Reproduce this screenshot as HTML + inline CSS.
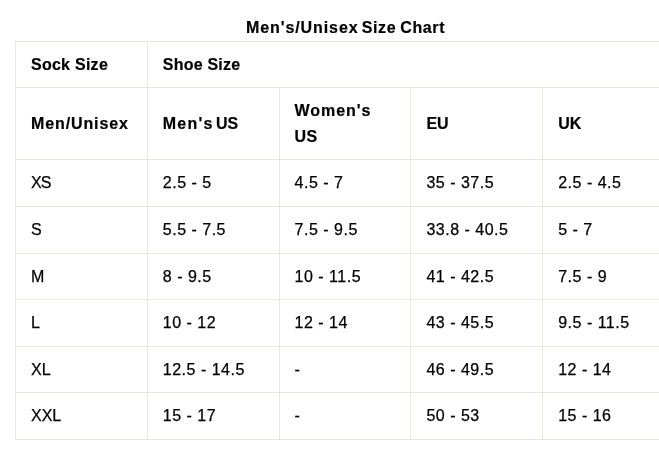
<!DOCTYPE html>
<html><head><meta charset="utf-8">
<style>
html,body{margin:0;padding:0;background:#fff;overflow:hidden;}
body{width:659px;height:455px;position:relative;font-family:"Liberation Sans",sans-serif;color:#000;}
.wrap{position:absolute;left:15px;top:0;width:658px;will-change:transform;}
h3{margin:0;position:absolute;left:0;width:658px;top:18px;text-align:left;font-size:16px;font-weight:bold;line-height:20px;letter-spacing:0.64px;padding-left:231px;white-space:nowrap;word-spacing:-2px;-webkit-text-stroke:0.2px #000;box-sizing:border-box;}
table{position:absolute;left:0;top:40.7px;width:660px;border-collapse:collapse;table-layout:fixed;}
td,th{border:1px solid #e8e8e1;padding:10px 15px;text-align:left;font-size:16px;line-height:25.6px;vertical-align:middle;}
th{font-weight:bold;-webkit-text-stroke:0.2px #000;}
td{letter-spacing:0.5px;-webkit-text-stroke:0.25px #000;}
td.l{letter-spacing:0;}
</style></head><body>
<div class="wrap">
<h3><span style="letter-spacing:0.91px">Men's/Unisex</span> <span>Size</span> <span style="letter-spacing:0.6px;margin-left:1px">Chart</span></h3>
<table>
<colgroup><col style="width:20%"><col style="width:20%"><col style="width:20%"><col style="width:20%"><col style="width:20%"></colgroup>
<tr><th style="letter-spacing:0.26px">Sock Size</th><th colspan="4" style="letter-spacing:0.22px">Shoe Size</th></tr>
<tr><th style="letter-spacing:0.89px">Men/Unisex</th><th style="word-spacing:-2px"><span style="letter-spacing:1.2px">Men's</span> US</th><th><span style="letter-spacing:0.92px">Women's</span><br><span style="letter-spacing:0.3px">US</span></th><th>EU</th><th>UK</th></tr>
<tr><td class="l" style="letter-spacing:-1px">XS</td><td>2.5 - 5</td><td>4.5 - 7</td><td>35 - 37.5</td><td>2.5 - 4.5</td></tr>
<tr><td class="l">S</td><td>5.5 - 7.5</td><td>7.5 - 9.5</td><td>33.8 - 40.5</td><td>5 - 7</td></tr>
<tr><td class="l">M</td><td>8 - 9.5</td><td>10 - 11.5</td><td>41 - 42.5</td><td>7.5 - 9</td></tr>
<tr><td class="l">L</td><td>10 - 12</td><td>12 - 14</td><td>43 - 45.5</td><td>9.5 - 11.5</td></tr>
<tr><td class="l">XL</td><td>12.5 - 14.5</td><td>-</td><td>46 - 49.5</td><td>12 - 14</td></tr>
<tr><td class="l">XXL</td><td>15 - 17</td><td>-</td><td>50 - 53</td><td>15 - 16</td></tr>
</table>
</div>
</body></html>
